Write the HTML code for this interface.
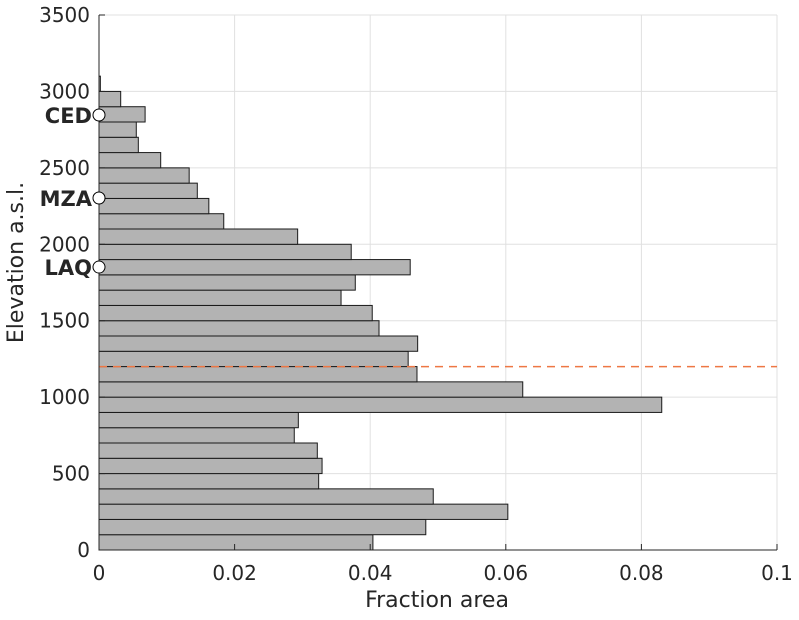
<!DOCTYPE html>
<html><head><meta charset="utf-8"><style>
body{margin:0;background:#fff}
svg text{font-family:"DejaVu Sans","Liberation Sans",sans-serif;fill:#262626}
</style></head><body>
<svg id="chart" width="799" height="615" xmlns="http://www.w3.org/2000/svg"></svg>
<script>
const binStarts=[0,100,200,300,400,500,600,700,800,900,1000,1100,1200,1300,1400,1500,1600,1700,1800,1900,2000,2100,2200,2300,2400,2500,2600,2700,2800,2900,3000];
const fractions=[0.0404,0.0482,0.0603,0.0493,0.0324,0.0329,0.0322,0.0288,0.0294,0.0830,0.0625,0.0469,0.0456,0.0470,0.0413,0.0403,0.0357,0.0378,0.0459,0.0372,0.0293,0.0184,0.0162,0.0145,0.0133,0.0091,0.0058,0.0055,0.0068,0.0032,0.0002];
const xTicks=[0,0.02,0.04,0.06,0.08,0.1];
const xTickLabels=["0","0.02","0.04","0.06","0.08","0.1"];
const yTicks=[0,500,1000,1500,2000,2500,3000,3500];
const stationNames=["CED","MZA","LAQ"];
const stationElev=[2846,2303,1851];
const refLine=1200;
const binWidth=100;

const svg=document.getElementById('chart');
const NS='http://www.w3.org/2000/svg';
const L=99,R=777,T=15,B=550;
const X=v=>L+v/0.1*(R-L);
const Y=v=>B-v/3500*(B-T);
function mk(tag,attrs,parent){const e=document.createElementNS(NS,tag);for(const k in attrs)e.setAttribute(k,attrs[k]);(parent||svg).appendChild(e);return e;}
mk('rect',{x:L,y:T,width:R-L,height:B-T,fill:'#fff'});
const grid=mk('g',{});


xTicks.forEach(t=>mk('line',{x1:X(t),x2:X(t),y1:T,y2:B,stroke:'#e0e0e0','stroke-width':1},grid));
yTicks.forEach(t=>mk('line',{x1:L,x2:R,y1:Y(t),y2:Y(t),stroke:'#e0e0e0','stroke-width':1},grid));
const bars=mk('g',{});


binStarts.forEach((s,i)=>{
  const r=mk('rect',{x:X(0),y:Y(s+binWidth),width:X(fractions[i])-X(0),height:Y(s)-Y(s+binWidth),fill:'#b3b3b3',stroke:'#1a1a1a','stroke-width':1},bars);
  
  
});
const rl=mk('line',{x1:L,x2:R,y1:Y(refLine),y2:Y(refLine),stroke:'#ee7744','stroke-width':1.5,'stroke-dasharray':'8,6'});


const ax=mk('g',{});


mk('line',{x1:L,x2:R,y1:B,y2:B,stroke:'#262626'},ax);
mk('line',{x1:L,x2:L,y1:T,y2:B,stroke:'#262626'},ax);
xTicks.forEach((t,i)=>{
  mk('line',{x1:X(t),x2:X(t),y1:B,y2:B-6,stroke:'#262626'},ax);
  const tx=mk('text',{x:X(t),y:B+30,'text-anchor':'middle','font-size':20},ax);
  tx.textContent=xTickLabels[i];
  
  
});
yTicks.forEach(t=>{
  mk('line',{x1:L,x2:L+6,y1:Y(t),y2:Y(t),stroke:'#262626'},ax);
  const tx=mk('text',{x:L-9,y:Y(t)+7,'text-anchor':'end','font-size':20},ax);
  tx.textContent=t;
  
  
});
const xt=mk('text',{x:(L+R)/2-1,y:607,'text-anchor':'middle','font-size':22});
xt.textContent='Fraction area';


const yt=mk('text',{x:0,y:0,'text-anchor':'middle','font-size':22,transform:'translate(23,'+((T+B)/2-20)+') rotate(-90)'});
yt.textContent='Elevation a.s.l.';


stationNames.forEach((n,i)=>{
  const c=mk('circle',{cx:L,cy:Y(stationElev[i]),r:6,fill:'#fff',stroke:'#000','stroke-width':1});
  
  
  const t=mk('text',{x:L-7,y:Y(stationElev[i])+8,'text-anchor':'end','font-size':21,'font-weight':'bold'});
  t.setAttribute('fill','#000');
  t.textContent=n;
  
  
});
</script>
</body></html>
